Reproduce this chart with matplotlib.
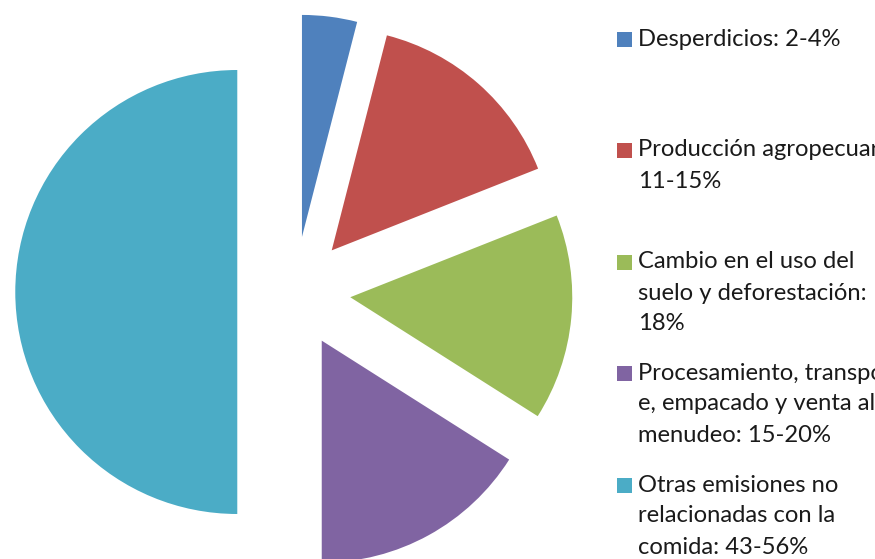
import matplotlib
matplotlib.use("Agg")
import matplotlib.pyplot as plt
from matplotlib.patches import Rectangle

# ---- data ----
categories = [
    "Desperdicios: 2-4%",
    "Producción agropecuaria:\n11-15%",
    "Cambio en el uso del\nsuelo y deforestación:\n18%",
    "Procesamiento, transport\ne, empacado y venta al\nmenudeo: 15-20%",
    "Otras emisiones no\nrelacionadas con la\ncomida: 43-56%",
]
values = [4, 15, 15, 16, 50]
colors = ["#4F81BD", "#C0504D", "#9BBB59", "#8064A2", "#4BACC6"]

W, H = 875, 559
fig = plt.figure(figsize=(W / 100, H / 100), dpi=100)
ax = fig.add_axes([0, 0, 1, 1])

# pie center and radius in pixels
cx, cy, R = 295, 292, 222
ax.pie(values, colors=colors, startangle=90, counterclock=False,
       explode=[0.25, 0.25, 0.25, 0.25, 0.26], radius=1,
       wedgeprops=dict(linewidth=0))
ax.set_aspect("auto")
ax.set_xlim(-cx / R, (W - cx) / R)
ax.set_ylim(-(H - cy) / R, cy / R)
ax.axis("off")

# ---- legend (manual, clipped at right edge like the source) ----
font = "Lato"
fs = 17.1
first_line_y = [40, 150, 262, 373, 485]
pitch = 31
for lab, col, y0 in zip(categories, colors, first_line_y):
    fig.patches.append(Rectangle(((617) / W, 1 - (y0 + 7.5) / H), 15 / W, 15 / H,
                                 transform=fig.transFigure, facecolor=col,
                                 edgecolor="none"))
    for i, line in enumerate(lab.split("\n")):
        fig.text(638 / W, 1 - (y0 + i * pitch) / H, line, family=font,
                 fontsize=fs, color="#1a1a1a", va="center", ha="left")

fig.savefig("out.png", dpi=100, facecolor="white")
